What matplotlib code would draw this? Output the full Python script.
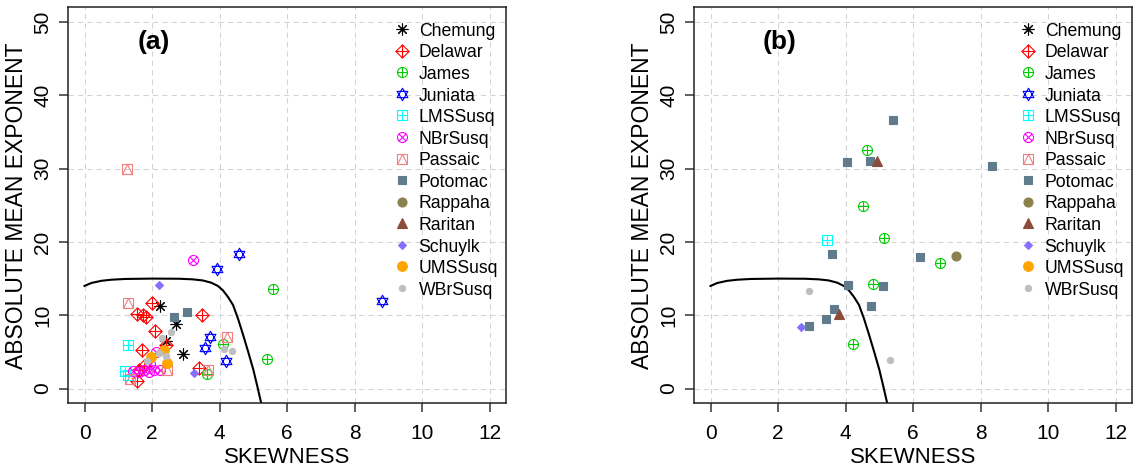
import numpy as np
import matplotlib
matplotlib.use('Agg')
import matplotlib.pyplot as plt
from matplotlib.path import Path

plt.rcParams['font.family'] = ['Liberation Sans', 'DejaVu Sans']

# boundary curve (same in both panels)
curve_x = [0.0, 0.2, 0.5, 0.8, 1.2, 2.0, 2.8, 3.2, 3.5, 3.75, 3.95, 4.1, 4.25,
           4.4, 4.55, 4.7, 4.85, 5.0, 5.12, 5.24]
curve_y = [14.0, 14.4, 14.7, 14.85, 14.95, 15.0, 14.98, 14.9, 14.75, 14.45, 14.0,
           13.4, 12.5, 11.4, 9.5, 7.3, 5.0, 2.6, 0.3, -2.1]

stations = ['Chemung', 'Delawar', 'James', 'Juniata', 'LMSSusq', 'NBrSusq', 'Passaic',
            'Potomac', 'Rappaha', 'Raritan', 'Schuylk', 'UMSSusq', 'WBrSusq']

# panel (a)
chemung_a_x = [2.23, 2.70, 2.40, 2.92]
chemung_a_y = [11.2, 8.8, 6.5, 4.75]
delawar_a_x = [2.00, 1.55, 1.72, 1.82, 3.49, 2.08, 2.40, 1.71, 1.76, 1.60, 3.40, 1.56]
delawar_a_y = [11.7, 10.2, 10.1, 9.8, 10.0, 7.85, 6.0, 5.2, 3.1, 2.5, 2.8, 1.1]
james_a_x = [5.57, 4.09, 5.40, 3.63]
james_a_y = [13.6, 6.1, 4.1, 2.0]
juniata_a_x = [4.58, 3.93, 8.81, 3.71, 3.56, 4.19]
juniata_a_y = [18.3, 16.3, 12.0, 7.0, 5.6, 3.8]
lmssusq_a_x = [1.29, 1.20, 1.30]
lmssusq_a_y = [6.0, 2.4, 1.8]
nbrsusq_a_x = [3.20, 1.45, 1.62, 1.75, 1.90, 2.05, 2.25, 1.95, 2.12]
nbrsusq_a_y = [17.5, 2.4, 2.2, 2.6, 2.3, 2.5, 2.6, 3.4, 5.0]
passaic_a_x = [1.27, 1.29, 4.21, 2.45, 3.66, 1.34]
passaic_a_y = [29.9, 11.65, 7.0, 2.55, 2.6, 1.3]
potomac_a_x = [2.65, 3.03]
potomac_a_y = [9.7, 10.4]
schuylk_a_x = [2.21, 3.25]
schuylk_a_y = [14.1, 2.1]
umssusq_a_x = [2.36, 1.98, 2.43]
umssusq_a_y = [5.3, 4.3, 3.45]
wbrsusq_a_x = [2.55, 2.31, 2.20, 2.40, 1.86, 4.14, 4.36]
wbrsusq_a_y = [7.7, 6.9, 4.8, 4.5, 3.8, 5.4, 5.1]

# panel (b)
james_b_x = [4.65, 4.52, 5.13, 6.81, 4.82, 4.21]
james_b_y = [32.6, 24.9, 20.6, 17.1, 14.25, 6.15]
lmssusq_b_x = [3.44]
lmssusq_b_y = [20.3]
potomac_b_x = [5.41, 4.05, 4.74, 8.35, 3.60, 6.20, 4.08, 5.10, 4.76, 3.65, 3.41, 2.91]
potomac_b_y = [36.6, 30.96, 31.1, 30.3, 18.4, 18.0, 14.1, 14.0, 11.3, 10.9, 9.55, 8.6]
rappaha_b_x = [7.26]
rappaha_b_y = [18.1]
raritan_b_x = [4.92, 3.80]
raritan_b_y = [31.1, 10.15]
schuylk_b_x = [2.67]
schuylk_b_y = [8.4]
wbrsusq_b_x = [2.91, 5.33]
wbrsusq_b_y = [13.3, 3.95]

panel_a = {
    'Chemung': (chemung_a_x, chemung_a_y), 'Delawar': (delawar_a_x, delawar_a_y),
    'James': (james_a_x, james_a_y), 'Juniata': (juniata_a_x, juniata_a_y),
    'LMSSusq': (lmssusq_a_x, lmssusq_a_y), 'NBrSusq': (nbrsusq_a_x, nbrsusq_a_y),
    'Passaic': (passaic_a_x, passaic_a_y), 'Potomac': (potomac_a_x, potomac_a_y),
    'Schuylk': (schuylk_a_x, schuylk_a_y), 'UMSSusq': (umssusq_a_x, umssusq_a_y),
    'WBrSusq': (wbrsusq_a_x, wbrsusq_a_y),
}
panel_b = {
    'James': (james_b_x, james_b_y), 'LMSSusq': (lmssusq_b_x, lmssusq_b_y),
    'Potomac': (potomac_b_x, potomac_b_y), 'Rappaha': (rappaha_b_x, rappaha_b_y),
    'Raritan': (raritan_b_x, raritan_b_y), 'Schuylk': (schuylk_b_x, schuylk_b_y),
    'WBrSusq': (wbrsusq_b_x, wbrsusq_b_y),
}

# R-like plotting symbols
M, L = Path.MOVETO, Path.LINETO
def poly(pts):
    return Path(pts + [pts[0]], closed=True)
plus = Path([(-1, 0), (1, 0), (0, -1), (0, 1)], [M, L, M, L])
times = Path([(-.707, -.707), (.707, .707), (-.707, .707), (.707, -.707)], [M, L, M, L])
circle = Path.unit_circle()
diamond = poly([(0, -1), (1, 0), (0, 1), (-1, 0)])
square = poly([(-1, -1), (1, -1), (1, 1), (-1, 1)])
tri_up = poly([(0, 1), (-0.866, -0.5), (0.866, -0.5)])
tri_dn = poly([(0, -1), (-0.866, 0.5), (0.866, 0.5)])
tri_sq = poly([(-1, -1), (1, -1), (0, 1)])
cmp = Path.make_compound_path

style = {
    'Chemung': ((8, 2, 0), 'black', 8.5, False),
    'Delawar': (cmp(diamond, plus), 'red', 9.5, False),
    'James': (cmp(circle, plus), '#00CD00', 7.2, False),
    'Juniata': (cmp(tri_up, tri_dn), 'blue', 9.0, False),
    'LMSSusq': (cmp(square, plus), 'cyan', 7.2, False),
    'NBrSusq': (cmp(circle, times), 'magenta', 7.2, False),
    'Passaic': (cmp(square, tri_sq), '#F08080', 7.2, False),
    'Potomac': ('s', '#607B8B', 5.8, True),
    'Rappaha': ('o', '#8B814C', 6.5, True),
    'Raritan': ('^', '#8B4C39', 7.5, True),
    'Schuylk': ('D', '#8470FF', 4.5, True),
    'UMSSusq': ('o', 'orange', 7.0, True),
    'WBrSusq': ('o', '#BEBEBE', 4.5, True),
}

def draw_pts(ax, name, x, y):
    mk, col, ms, filled = style[name]
    ax.plot(x, y, ls='none', marker=mk, ms=ms, mec=col, mew=0.8,
            mfc=col if filled else 'none', zorder=3)

fig = plt.figure(figsize=(11.33, 4.68), dpi=100)
ax_a = fig.add_axes([0.0603, 0.1383, 0.3861, 0.8462])
ax_b = fig.add_axes([0.6128, 0.1383, 0.3861, 0.8462])

for ax, data, tag in [(ax_a, panel_a, '(a)'), (ax_b, panel_b, '(b)')]:
    ax.set_xlim(-0.48, 12.48)
    ax.set_ylim(-2, 52)
    ax.set_xticks(range(0, 13, 2))
    ax.set_yticks(range(0, 51, 10))
    ax.grid(True, color='#D3D3D3', lw=0.75, ls=(0, (5, 4)), zorder=0)
    for s in ax.spines.values():
        s.set_linewidth(1.1)
        s.set_color('#222222')
    ax.tick_params(length=6.5, width=1.1, color='#333333', labelsize=15)
    ax.tick_params(axis='x', pad=8.5)
    ax.tick_params(axis='y', pad=5, labelrotation=90)
    for lab in ax.get_yticklabels():
        lab.set_va('center')
    ax.set_xlabel('SKEWNESS', fontsize=16, va='baseline')
    ax.xaxis.set_label_coords(0.5, -0.1515)
    ax.set_ylabel('ABSOLUTE MEAN EXPONENT', fontsize=16.5, va='baseline',
                  rotation_mode='anchor')
    ax.yaxis.set_label_coords(-0.103, 0.5)

    ax.plot(curve_x, curve_y, color='black', lw=1.5, zorder=2)
    for name in stations:
        if name in data:
            draw_pts(ax, name, *data[name])

    ax.text(2.05, 47.2, tag, fontsize=19, fontweight='bold', ha='center', va='center')

    # legend drawn in data coordinates (no box)
    for k, name in enumerate(stations):
        yy = 49.0 - k * 2.94
        draw_pts(ax, name, [9.41], [yy])
        ax.text(9.9, yy - 0.91, name, fontsize=12.7, va='baseline', ha='left')

fig.savefig('out.png', dpi=100)
